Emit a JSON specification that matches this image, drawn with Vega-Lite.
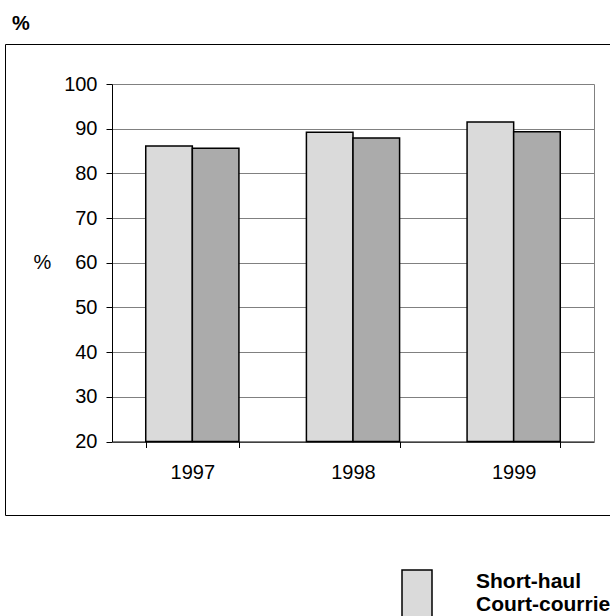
{
  "$schema": "https://vega.github.io/schema/vega-lite/v6.json",
  "width": 606,
  "height": 471,
  "autosize": {"type": "none"},
  "padding": {"left": 5, "top": 44, "right": 0, "bottom": 101},
  "background": "white",
  "config": {
    "view": {"stroke": "black", "strokeWidth": 1, "fill": null},
    "font": "Liberation Sans"
  },
  "title": {"text": "%", "anchor": "start", "frame": "group", "fontSize": 20, "fontWeight": "bold", "font": "Liberation Sans", "color": "black", "dx": 7, "offset": -6, "baseline": "alphabetic"},
  "data": {"values": [
    {"year": "1997", "series": "Short-haul\nCourt-courrier", "value": 86.1},
    {"year": "1997", "series": "Long-haul\nLong-courrier", "value": 85.6},
    {"year": "1998", "series": "Short-haul\nCourt-courrier", "value": 89.2},
    {"year": "1998", "series": "Long-haul\nLong-courrier", "value": 87.9},
    {"year": "1999", "series": "Short-haul\nCourt-courrier", "value": 91.5},
    {"year": "1999", "series": "Long-haul\nLong-courrier", "value": 89.3}
  ]},
  "layer": [
    {
      "mark": {"type": "bar", "stroke": "black", "strokeWidth": 1.5},
      "encoding": {
        "x": {"field": "year", "type": "ordinal",
          "scale": {"range": [107, 589], "paddingInner": 0.42, "paddingOuter": 0.21},
          "axis": {"orient": "bottom", "offset": -73.5, "tickBand": "extent", "grid": false, "domainColor": "black", "domainWidth": 1, "tickColor": "black", "tickSize": 6, "tickWidth": 1, "labelFontSize": 20, "labelColor": "black", "labelPadding": 15, "labelAngle": 0, "labelFont": "Liberation Sans", "title": null}},
        "xOffset": {"field": "series", "type": "nominal", "scale": {"domain": ["Short-haul\nCourt-courrier", "Long-haul\nLong-courrier"], "paddingInner": 0, "paddingOuter": 0}},
        "y": {"field": "value", "type": "quantitative",
          "scale": {"domain": [20, 100], "range": [397.5, 40], "nice": false, "zero": false},
          "axis": {"orient": "left", "offset": -107, "values": [20, 30, 40, 50, 60, 70, 80, 90, 100], "grid": true, "gridColor": "#808080", "gridWidth": 1, "domainColor": "black", "domainWidth": 1, "tickColor": "black", "tickSize": 6, "tickWidth": 1, "labelFontSize": 20, "labelColor": "black", "labelPadding": 9, "labelFont": "Liberation Sans", "title": "%", "titleAngle": 0, "titleFontSize": 20, "titleFontWeight": "normal", "titleFont": "Liberation Sans", "titleColor": "black", "titleX": -70, "titleY": 218, "titleAlign": "center", "titleBaseline": "middle"}},
        "y2": {"datum": 20},
        "color": {"field": "series", "type": "nominal",
          "scale": {"domain": ["Short-haul\nCourt-courrier", "Long-haul\nLong-courrier"], "range": ["#dadada", "#ababab"]},
          "legend": {"orient": "none", "legendX": 386, "legendY": 512, "title": null, "symbolType": "M-0.6,-0.48H0.6V1.52H-0.6Z", "symbolSize": 2500, "symbolStrokeColor": "black", "symbolStrokeWidth": 1.5, "labelFont": "Liberation Sans", "labelFontSize": 21, "labelFontWeight": "bold", "labelColor": "black", "labelOffset": 33, "labelExpr": "split(datum.label, '\\n')", "labelLimit": 0, "padding": 0}}
      }
    },
    {
      "mark": {"type": "bar", "opacity": 0},
      "encoding": {
        "x": {"field": "year", "type": "ordinal",
          "axis": {"orient": "bottom", "offset": -73.5, "tickBand": "extent", "grid": false, "domainColor": "black", "domainWidth": 1, "tickColor": "black", "tickSize": 6, "tickWidth": 1, "labelFontSize": 20, "labelColor": "black", "labelPadding": 15, "labelAngle": 0, "labelFont": "Liberation Sans", "title": null}},
        "xOffset": {"field": "series", "type": "nominal"},
        "y": {"field": "value", "type": "quantitative",
          "axis": {"orient": "right", "offset": -17, "grid": false, "ticks": false, "labels": false, "domainColor": "#808080", "domainWidth": 1, "title": null}},
        "y2": {"datum": 20}
      }
    }
  ],
  "resolve": {"axis": {"y": "independent"}}
}
